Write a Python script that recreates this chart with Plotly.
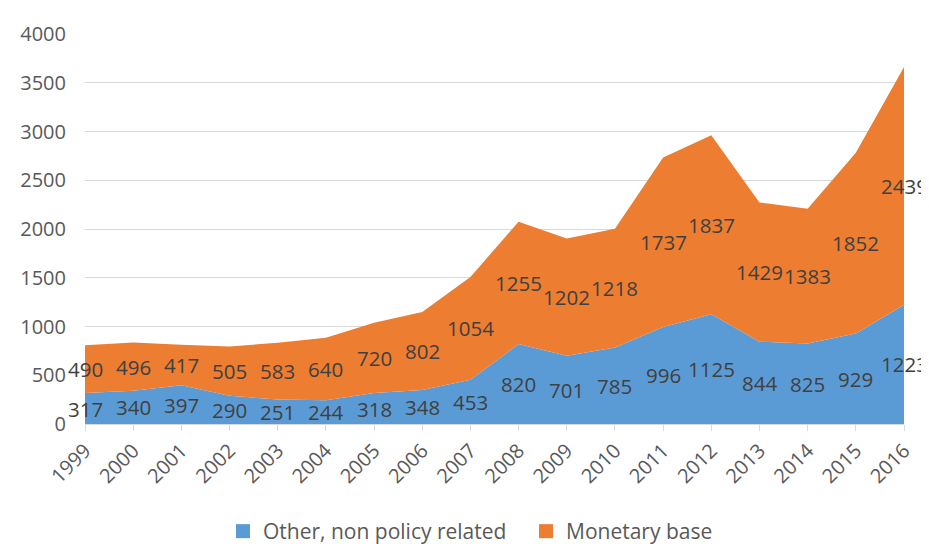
import plotly.graph_objects as go

years = list(range(1999, 2017))
other = [317, 340, 397, 290, 251, 244, 318, 348, 453, 820, 701, 785, 996, 1125, 844, 825, 929, 1223]
monetary = [490, 496, 417, 505, 583, 640, 720, 802, 1054, 1255, 1202, 1218, 1737, 1837, 1429, 1383, 1852, 2439]

blue = "#5B9BD5"
orange = "#ED7D31"
font_family = "Open Sans, Noto Sans, sans-serif"
text_col = "#404040"

fig = go.Figure()
fig.add_trace(go.Scatter(x=years, y=other, name="Other, non policy related", stackgroup="one",
                         mode="none", fillcolor=blue, line=dict(width=0), showlegend=False))
fig.add_trace(go.Scatter(x=years, y=monetary, name="Monetary base", stackgroup="one",
                         mode="none", fillcolor=orange, line=dict(width=0), showlegend=False))

# legend entries with square swatches
fig.add_trace(go.Scatter(x=[None], y=[None], mode="markers", name="Other, non policy related",
                         marker=dict(symbol="square", size=14, color=blue)))
fig.add_trace(go.Scatter(x=[None], y=[None], mode="markers", name="Monetary base",
                         marker=dict(symbol="square", size=14, color=orange)))

mid_other = [o / 2 for o in other]
mid_mon = [o + m / 2 for o, m in zip(other, monetary)]
annotations = []
for x, y, v in zip(years, mid_other, other):
    annotations.append(dict(x=x, y=y, xref="x", yref="y", text=str(v), showarrow=False,
                            font=dict(size=20.5, color=text_col, family=font_family)))
for x, y, v in zip(years, mid_mon, monetary):
    annotations.append(dict(x=x, y=y, xref="x", yref="y", text=str(v), showarrow=False,
                            font=dict(size=20.5, color=text_col, family=font_family)))

fig.update_layout(
    width=929, height=544,
    margin=dict(l=73, r=33, t=17, b=128),
    paper_bgcolor="white", plot_bgcolor="white",
    font=dict(family=font_family, color="#595959", size=18),
    legend=dict(orientation="h", xref="container", x=215 / 929, xanchor="left",
                yref="container", y=0.0, yanchor="bottom",
                font=dict(size=21, color="#595959"), traceorder="normal", itemwidth=30,
                entrywidth=258, entrywidthmode="pixels"),
    showlegend=True,
    annotations=annotations,
)
fig.update_xaxes(range=[1999, 2016], tickmode="array", tickvals=years, ticktext=[str(y) for y in years],
                 tickangle=-45, ticks="outside", ticklen=6, tickcolor="#d9d9d9",
                 showline=True, linecolor="#d9d9d9", showgrid=False, zeroline=False,
                 tickfont=dict(size=20, color="#595959"))
fig.update_yaxes(range=[0, 4000], dtick=500, showgrid=True, gridcolor="#d9d9d9", zeroline=False,
                 showline=False, tickfont=dict(size=20, color="#595959"), ticks="", ticklabelstandoff=18)

fig.write_html("out.html")
